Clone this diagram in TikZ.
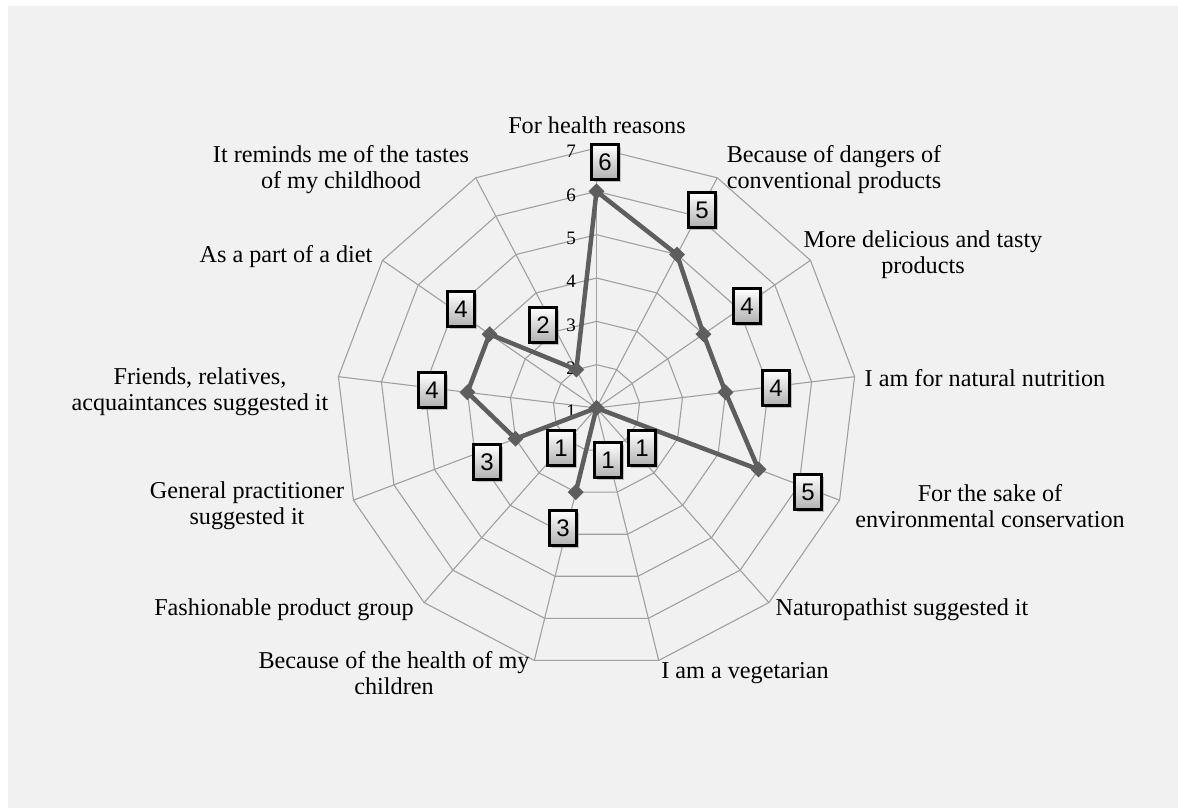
\documentclass[tikz,border=0pt]{standalone}
\usepackage{fontspec}
\setmainfont{Liberation Serif}
\newfontfamily\numfont{Liberation Sans}
\usetikzlibrary{shapes.geometric,shadows,calc}
\definecolor{bg}{HTML}{F1F1F1}
\definecolor{gridc}{HTML}{A0A0A0}
\definecolor{datac}{HTML}{5E5E5E}
\definecolor{boxbot}{HTML}{B0B0B0}
\begin{document}
\begin{tikzpicture}[x=1pt,y=-1pt,
  gridline/.style={draw=gridc,line width=1.1pt},
  dataline/.style={draw=datac,line width=4.5pt,line join=round},
  marker/.style={diamond,fill=datac,inner sep=0pt,minimum size=16pt},
  vbox/.style={rectangle,draw=black,line width=2.5pt,minimum width=27pt,minimum height=35pt,inner sep=0pt,
     top color=white,bottom color=boxbot,drop shadow={shadow xshift=2.5pt,shadow yshift=-2.5pt,fill=black!45},
     font=\numfont\fontsize{24}{26}\selectfont},
  axlab/.style={align=center,font=\fontsize{24.2}{26}\selectfont,inner sep=0pt},
  ticklab/.style={font=\fontsize{19}{20}\selectfont,text=black,inner sep=0pt}]
\useasboundingbox (0,0) rectangle (1178,808);
\fill[bg] (8,6) rectangle (1178,808);
\coordinate (O) at (596.5,408);
% rings
\foreach \v in {2,...,7}{
  \draw[gridline] plot[samples=14,domain=0:13,variable=\k]
    ({596.5+sin(\k*360/13)*(\v-1)*43.33},{408-cos(\k*360/13)*(\v-1)*43.33}) -- cycle;
}
% spokes
\foreach \k in {0,...,12}{
  \coordinate (s\k) at ($(O)+({sin(\k*360/13)*260},{-cos(\k*360/13)*260})$);
  \draw[gridline] (O) -- (s\k);
}
% tick labels
\foreach \v in {1,...,7}{
  \node[ticklab] (t\v) at (571,{408-(\v-1)*43.33+3.5}) {\v};
}
% data points
\foreach \k/\v in {0/6,1/5,2/4,3/4,4/5,5/1,6/1,7/3,8/1,9/3,10/4,11/4,12/2}{
  \coordinate (p\k) at ($(O)+({sin(\k*360/13)*(\v-1)*43.33},{-cos(\k*360/13)*(\v-1)*43.33})$);
}
\draw[dataline] (p0) -- (p1) -- (p2) -- (p3) -- (p4) -- (p5) -- (p6) -- (p7) -- (p8) -- (p9) -- (p10) -- (p11) -- (p12) -- cycle;
\foreach \k in {0,...,12}{ \node[marker] (m\k) at (p\k) {}; }
% value labels
\node[vbox] (l0) at (605,162) {6};
\node[vbox] (l1) at (702,210) {5};
\node[vbox] (l2) at (747,306) {4};
\node[vbox] (l3) at (776,388) {4};
\node[vbox] (l4) at (808,492) {5};
\node[vbox] (l5) at (642,448) {1};
\node[vbox] (l6) at (608,460) {1};
\node[vbox] (l7) at (563,528) {3};
\node[vbox] (l8) at (561,448) {1};
\node[vbox] (l9) at (487,462) {3};
\node[vbox] (l10) at (432,390) {4};
\node[vbox] (l11) at (461,309) {4};
\node[vbox] (l12) at (543,325) {2};
% axis labels
\node[axlab] (a0) at (597,125) {For health reasons};
\node[axlab] (a1) at (834,170) {Because of dangers of\\conventional products};
\node[axlab] (a2) at (923,255) {More delicious and tasty\\products};
\node[axlab] (a3) at (985,378) {I am for natural nutrition};
\node[axlab] (a4) at (990,506) {For the sake of\\environmental conservation};
\node[axlab] (a5) at (902,610) {Naturopathist suggested it};
\node[axlab] (a6) at (745,673) {I am a vegetarian};
\node[axlab] (a7) at (394,673) {Because of the health of my\\children};
\node[axlab] (a8) at (284,610) {Fashionable product group};
\node[axlab] (a9) at (247,506) {General practitioner\\suggested it};
\node[axlab] (a10) at (200,392) {Friends, relatives,\\acquaintances suggested it};
\node[axlab] (a11) at (286,257) {As a part of a diet};
\node[axlab] (a12) at (341,170) {It reminds me of the tastes\\of my childhood};
\end{tikzpicture}
\end{document}
